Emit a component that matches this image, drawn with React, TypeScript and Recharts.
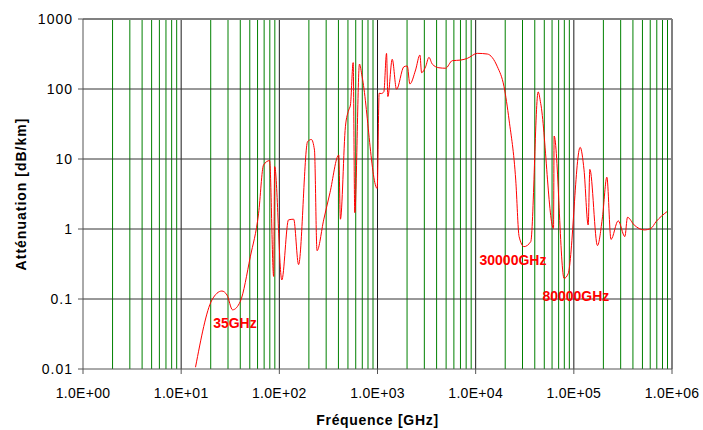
import React from 'react';
import { LineChart, Line, XAxis, YAxis, ReferenceLine, ReferenceDot } from 'recharts';

// fréquence [GHz] / atténuation [dB/km]
const FREQ = [
  14, 20.6, 26, 29.3, 33.4, 40, 50.6, 61.5, 69, 79.6, 87.5, 89.6, 106, 124, 140, 157, 194, 212, 228, 242,
  283, 328, 403, 419, 471, 509, 530, 565, 587, 655, 697, 993, 1040, 1090, 1160, 1236, 1275, 1413, 1563,
  1857, 2011, 2137, 2443, 2705, 2813, 3090, 3342, 3614, 4226, 4943, 5780, 7034, 8225, 10400, 13150,
  16640, 19450, 21900, 25600, 27700, 31100, 36400, 43300, 46000, 62100, 63000, 79600, 87500, 116000,
  127000, 140000, 145600, 174000, 196000, 217000, 239000, 283000, 331000, 352000, 412000, 521000,
  610000, 687000, 889000,
];
const ATT = [
  0.0106, 0.097, 0.13, 0.114, 0.07, 0.092, 0.4, 1.68, 8.2, 9.5, 0.21, 7.8, 0.187, 1.35, 1.38, 0.31, 17.7, 19, 13.4, 0.49,
  1.35, 3.3, 11.4, 1.38, 28.9, 50, 59, 238, 1.71, 227, 150, 3.8, 87, 86, 91, 323, 78, 266, 99,
  208, 213, 118, 187, 306, 171, 208, 283, 227, 201, 198, 254, 259, 274, 323, 316,
  208, 108, 36, 5.0, 0.78, 0.56, 0.66, 91, 62, 1.02, 21.3, 0.197, 0.23, 14.7,
  7, 1.14, 7.1, 0.58, 1.5, 5.5, 0.71, 1.31, 0.78, 1.47, 1.14, 0.97,
  1.02, 1.27, 1.77,
];

const X_TICKS = [1, 10, 100, 1e3, 1e4, 1e5, 1e6];
const Y_TICKS = [0.01, 0.1, 1, 10, 100, 1000];
const MINOR_X = X_TICKS.slice(0, -1).flatMap((d) => [2, 3, 4, 5, 6, 7, 8, 9].map((m) => m * d));

const NOTES = [
  { x: 35.3, y: 0.0454, text: '35GHz' },
  { x: 24000, y: 0.36, text: '30000GHz' },
  { x: 105000, y: 0.11, text: '80000GHz' },
];

const data = FREQ.map((f, i) => ({ f, a: ATT[i] }));

const fmtX = (v: number) => {
  const e = Math.round(Math.log10(v));
  return `1.0E+${String(e).padStart(2, '0')}`;
};

const FONT = 'Liberation Sans, Arial, sans-serif';

export default function App() {
  return (
    <div style={{ position: 'absolute', left: 0, top: 0, fontFamily: FONT }}>
      <LineChart width={703} height={430} data={data} margin={{ top: 19, right: 31, bottom: 3, left: 0 }}>
        <XAxis
          dataKey="f"
          type="number"
          scale="log"
          domain={[1, 1e6]}
          ticks={X_TICKS}
          tickFormatter={fmtX}
          tick={{ fontSize: 14, fill: '#000', fontFamily: FONT, letterSpacing: 0.3 }}
          tickSize={5}
          tickMargin={14}
          stroke="#555"
          height={58}
          allowDataOverflow
          label={{
            value: 'Fréquence [GHz]',
            position: 'insideBottom',
            offset: 2,
            fontSize: 14,
            fontWeight: 'bold',
            fill: '#000',
            letterSpacing: 0.7,
          }}
        />
        <YAxis
          type="number"
          scale="log"
          domain={[0.01, 1000]}
          ticks={Y_TICKS}
          tickFormatter={(v: number) => String(v)}
          tick={{ fontSize: 14, fill: '#000', fontFamily: FONT, letterSpacing: 1 }}
          tickSize={5}
          tickMargin={5}
          stroke="#555"
          width={83}
          allowDataOverflow
          label={{
            value: 'Atténuation [dB/km]',
            angle: -90,
            position: 'insideLeft',
            offset: 21,
            fontSize: 14,
            fontWeight: 'bold',
            fill: '#000',
            letterSpacing: 1,
            style: { textAnchor: 'middle' },
          }}
        />
        {MINOR_X.map((v) => (
          <ReferenceLine key={`mx-${v}`} x={v} stroke="#008000" strokeWidth={1} />
        ))}
        {X_TICKS.slice(1, -1).map((v) => (
          <ReferenceLine key={`x-${v}`} x={v} stroke="#1a1a1a" strokeWidth={1} />
        ))}
        {Y_TICKS.slice(1, -1).map((v) => (
          <ReferenceLine key={`y-${v}`} y={v} stroke="#333" strokeWidth={1} />
        ))}
        <ReferenceLine x={1e6} stroke="#808080" strokeWidth={2} />
        <ReferenceLine y={1000} stroke="#808080" strokeWidth={2} />
        <Line type="monotone" dataKey="a" stroke="#ff0000" strokeWidth={1} dot={false} isAnimationActive={false} />
        {NOTES.map((n) => (
          <ReferenceDot
            key={n.text}
            x={n.x}
            y={n.y}
            r={0}
            fillOpacity={0}
            stroke="none"
            label={{ value: n.text, position: 'center', fill: '#ff0000', fontWeight: 'bold', fontSize: 14, fontFamily: FONT }}
          />
        ))}
      </LineChart>
    </div>
  );
}
